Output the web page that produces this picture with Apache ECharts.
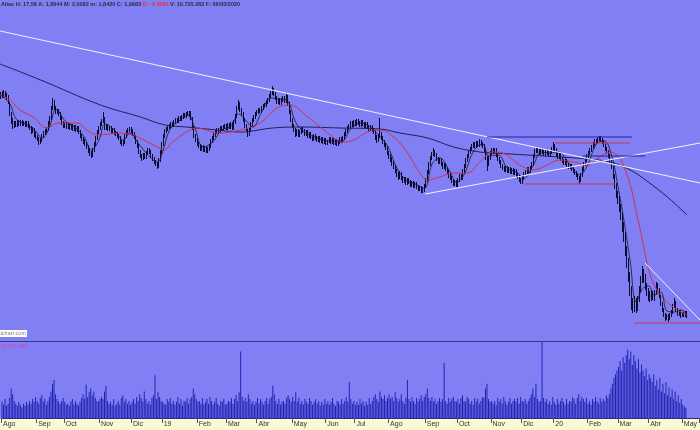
<!DOCTYPE html>
<html><head><meta charset="utf-8">
<script src="https://cdn.jsdelivr.net/npm/echarts@6/dist/echarts.min.js"></script>
<style>html,body{margin:0;padding:0;background:#8080f4}#c{width:700px;height:430px}</style>
</head><body><div id="c"></div><script>
// Month tick labels and the number of bars between month ticks (Aug 2018 .. May 2020)
const monthLabels=['Ago','Sep','Oct','Nov','Dic','19','Feb','Mar','Abr','May','Jun','Jul','Ago','Sep','Oct','Nov','Dic','20','Feb','Mar','Abr','May'];
const monthDays=[23,18,23,21,20,23,19,20,23,22,19,22,24,21,22,20,21,22,20,20,22,3];
const totalSlots=456;

const closeP=[
4.22,4.20,4.23,4.21,4.19,4.14,4.02,3.95,3.90,3.93,3.91,3.94,3.92,3.94,3.92,3.93,3.91,3.93,3.90,3.88,3.85,3.86,3.82,
3.79,3.77,3.74,3.76,3.80,3.83,3.85,3.87,3.93,3.98,4.08,4.14,4.08,4.04,4.05,4.02,3.98,3.93,3.90,3.92,
3.89,3.91,3.88,3.90,3.87,3.89,3.86,3.88,3.84,3.80,3.77,3.75,3.72,3.69,3.66,3.63,3.61,3.66,3.72,3.78,3.84,3.88,3.92,
3.95,3.98,3.88,3.90,3.87,3.88,3.85,3.86,3.83,3.82,3.80,3.78,3.74,3.72,3.74,3.80,3.84,3.86,3.87,3.85,3.82,3.79,
3.74,3.70,3.64,3.60,3.58,3.61,3.59,3.63,3.66,3.64,3.60,3.57,3.54,3.52,3.50,3.56,3.64,3.72,3.80,
3.85,3.87,3.89,3.90,3.92,3.91,3.94,3.96,3.95,3.98,3.97,3.99,4.01,4.00,4.02,4.03,4.01,3.98,3.88,3.80,3.76,3.72,
3.70,3.67,3.69,3.66,3.68,3.65,3.67,3.70,3.75,3.78,3.81,3.84,3.86,3.85,3.88,3.87,3.89,3.90,3.88,3.91,
3.89,3.92,3.88,3.94,4.00,4.08,4.12,4.06,4.02,3.96,3.90,3.86,3.82,3.86,3.92,3.96,3.99,4.02,4.04,4.06,4.05,
4.08,4.10,4.11,4.14,4.16,4.20,4.23,4.26,4.22,4.18,4.14,4.16,4.13,4.16,4.18,4.15,4.19,4.12,4.04,3.96,
3.90,3.86,3.82,3.85,3.81,3.84,3.87,3.85,3.82,3.84,3.80,3.82,3.79,3.77,3.80,3.78,3.76,3.78,3.75,3.77,3.74,3.76,
3.73,3.75,3.77,3.74,3.76,3.73,3.75,3.72,3.74,3.77,3.75,3.78,3.82,3.85,3.88,3.90,3.93,3.91,3.94,3.92,
3.95,3.93,3.91,3.94,3.92,3.90,3.92,3.89,3.87,3.89,3.86,3.84,3.79,3.76,3.80,3.82,3.78,3.74,3.71,3.68,3.63,3.60,3.57,
3.52,3.49,3.45,3.42,3.39,3.42,3.38,3.35,3.37,3.33,3.36,3.34,3.31,3.33,3.30,3.32,3.29,3.27,3.28,3.25,3.26,3.30,
3.36,3.44,3.52,3.58,3.62,3.64,3.61,3.57,3.54,3.56,3.52,3.49,3.51,3.47,3.44,3.40,3.38,3.35,3.32,3.34,3.31,
3.36,3.40,3.38,3.45,3.50,3.56,3.60,3.64,3.67,3.70,3.72,3.70,3.73,3.71,3.74,3.72,3.70,3.65,3.58,3.52,3.58,3.63,3.66,
3.64,3.66,3.61,3.57,3.54,3.50,3.48,3.46,3.48,3.45,3.47,3.44,3.46,3.43,3.45,3.41,3.39,3.36,3.34,3.38,3.42,
3.44,3.47,3.45,3.48,3.52,3.60,3.65,3.67,3.65,3.63,3.66,3.64,3.62,3.65,3.63,3.61,3.64,3.67,3.70,
3.66,3.62,3.59,3.61,3.57,3.55,3.53,3.55,3.51,3.49,3.50,3.47,3.45,3.43,3.41,3.38,3.36,3.41,3.47,3.52,3.56,3.60,
3.63,3.66,3.69,3.72,3.75,3.74,3.77,3.78,3.76,3.74,3.71,3.67,3.64,3.60,3.55,3.50,3.40,3.30,3.22,3.15,
3.08,3.00,2.88,2.78,2.66,2.52,2.40,2.26,2.12,2.08,2.14,2.08,2.16,2.26,2.36,2.44,2.38,2.30,2.24,2.20,2.18,2.22,
2.18,2.24,2.30,2.26,2.20,2.12,2.06,2.01,1.98,2.00,1.97,2.01,2.04,2.10,2.14,2.06,2.02,2.04,2.00,2.02,
2.01,2.03,2.00];

const openP=[
4.19,4.22,4.20,4.23,4.21,4.19,4.13,4.02,3.95,3.90,3.93,3.91,3.94,3.92,3.94,3.92,3.93,3.91,3.93,3.90,3.88,3.85,3.86,
3.82,3.79,3.77,3.74,3.76,3.80,3.83,3.85,3.87,3.93,3.98,4.08,4.14,4.08,4.04,4.05,4.02,3.98,3.93,3.90,
3.92,3.89,3.91,3.88,3.90,3.87,3.89,3.86,3.88,3.84,3.80,3.77,3.75,3.72,3.69,3.66,3.63,3.61,3.66,3.72,3.78,3.84,3.88,
3.92,3.95,3.97,3.88,3.90,3.87,3.88,3.85,3.86,3.83,3.82,3.80,3.78,3.74,3.72,3.74,3.80,3.84,3.86,3.87,3.85,3.82,
3.79,3.74,3.70,3.64,3.60,3.58,3.61,3.59,3.63,3.66,3.64,3.60,3.57,3.54,3.52,3.50,3.56,3.64,3.72,
3.80,3.85,3.87,3.89,3.90,3.92,3.91,3.94,3.96,3.95,3.98,3.97,3.99,4.01,4.00,4.02,4.03,4.01,3.97,3.88,3.80,3.76,
3.72,3.70,3.67,3.69,3.66,3.68,3.65,3.67,3.70,3.75,3.78,3.81,3.84,3.86,3.85,3.88,3.87,3.89,3.90,3.88,
3.91,3.89,3.92,3.88,3.94,4.00,4.08,4.12,4.06,4.02,3.96,3.90,3.86,3.82,3.86,3.92,3.96,3.99,4.02,4.04,4.06,
4.05,4.08,4.10,4.11,4.14,4.16,4.20,4.23,4.26,4.22,4.18,4.14,4.16,4.13,4.16,4.18,4.15,4.19,4.12,4.04,
3.96,3.90,3.86,3.82,3.85,3.81,3.84,3.87,3.85,3.82,3.84,3.80,3.82,3.79,3.77,3.80,3.78,3.76,3.78,3.75,3.77,3.74,
3.76,3.73,3.75,3.77,3.74,3.76,3.73,3.75,3.72,3.74,3.77,3.75,3.78,3.82,3.85,3.88,3.90,3.93,3.91,3.94,
3.92,3.95,3.93,3.91,3.94,3.92,3.90,3.92,3.89,3.87,3.89,3.86,3.84,3.79,3.76,3.80,3.82,3.78,3.74,3.71,3.68,3.63,3.60,
3.57,3.52,3.49,3.45,3.42,3.39,3.42,3.38,3.35,3.37,3.33,3.36,3.34,3.31,3.33,3.30,3.32,3.29,3.27,3.28,3.25,3.26,
3.30,3.36,3.44,3.52,3.58,3.62,3.64,3.61,3.57,3.54,3.56,3.52,3.49,3.51,3.47,3.44,3.40,3.38,3.35,3.32,3.34,
3.31,3.36,3.40,3.38,3.45,3.50,3.56,3.60,3.64,3.67,3.70,3.72,3.70,3.73,3.71,3.74,3.72,3.70,3.65,3.58,3.52,3.58,3.63,
3.66,3.64,3.66,3.61,3.57,3.54,3.50,3.48,3.46,3.48,3.45,3.47,3.44,3.46,3.43,3.45,3.41,3.39,3.36,3.34,3.38,
3.42,3.44,3.47,3.45,3.48,3.52,3.60,3.65,3.67,3.65,3.63,3.66,3.64,3.62,3.65,3.63,3.61,3.64,3.67,
3.70,3.66,3.62,3.59,3.61,3.57,3.55,3.53,3.55,3.51,3.49,3.50,3.47,3.45,3.43,3.41,3.38,3.36,3.41,3.47,3.52,3.56,
3.60,3.63,3.66,3.69,3.72,3.75,3.74,3.77,3.78,3.76,3.74,3.71,3.67,3.64,3.60,3.55,3.48,3.40,3.30,3.22,
3.15,3.08,2.98,2.88,2.78,2.64,2.52,2.40,2.26,2.12,2.08,2.14,2.08,2.16,2.26,2.36,2.44,2.38,2.30,2.24,2.20,2.18,
2.22,2.18,2.24,2.30,2.26,2.20,2.12,2.06,2.01,1.98,2.00,1.97,2.01,2.04,2.10,2.14,2.06,2.02,2.04,2.00,
2.02,2.01,2.03];

const highP=[
4.24,4.25,4.26,4.25,4.23,4.21,4.14,4.04,3.98,3.95,3.95,3.96,3.96,3.96,3.96,3.95,3.95,3.95,3.95,3.92,3.90,3.89,3.88,
3.84,3.81,3.79,3.78,3.82,3.85,3.87,3.89,3.95,4.00,4.10,4.18,4.16,4.10,4.07,4.07,4.04,4.00,3.95,3.94,
3.94,3.93,3.93,3.92,3.92,3.91,3.91,3.90,3.90,3.86,3.82,3.79,3.77,3.74,3.71,3.68,3.65,3.68,3.74,3.80,3.86,3.90,3.94,
3.97,4.04,3.99,3.92,3.92,3.90,3.90,3.88,3.88,3.85,3.84,3.82,3.80,3.76,3.76,3.82,3.86,3.88,3.89,3.89,3.87,3.84,
3.81,3.76,3.72,3.66,3.62,3.63,3.63,3.65,3.68,3.68,3.66,3.62,3.59,3.56,3.54,3.58,3.66,3.74,3.82,
3.87,3.89,3.91,3.92,3.94,3.94,3.96,3.98,3.98,4.00,4.00,4.01,4.03,4.03,4.04,4.05,4.05,4.05,3.99,3.90,3.82,3.78,
3.74,3.72,3.71,3.71,3.70,3.70,3.69,3.72,3.77,3.80,3.83,3.86,3.88,3.88,3.90,3.90,3.91,3.92,3.92,3.93,
3.93,3.94,3.94,3.96,4.02,4.10,4.16,4.14,4.08,4.04,3.98,3.92,3.88,3.88,3.94,3.98,4.01,4.04,4.06,4.08,4.08,
4.10,4.12,4.13,4.16,4.18,4.22,4.25,4.30,4.28,4.24,4.20,4.18,4.18,4.18,4.20,4.20,4.23,4.21,4.14,4.06,
3.98,3.92,3.88,3.87,3.87,3.86,3.89,3.89,3.87,3.86,3.86,3.84,3.84,3.81,3.82,3.82,3.80,3.80,3.80,3.79,3.79,3.78,
3.78,3.76,3.79,3.79,3.78,3.78,3.77,3.77,3.76,3.79,3.79,3.80,3.84,3.87,3.90,3.92,3.95,3.95,3.96,3.96,
3.97,3.97,3.95,3.96,3.96,3.94,3.94,3.94,3.91,3.91,3.91,3.88,3.86,3.81,3.82,3.98,3.84,3.80,3.76,3.73,3.70,3.65,3.62,
3.59,3.55,3.51,3.47,3.44,3.45,3.44,3.40,3.39,3.39,3.38,3.38,3.36,3.35,3.35,3.34,3.34,3.31,3.30,3.30,3.28,3.32,
3.38,3.46,3.54,3.60,3.64,3.68,3.66,3.63,3.59,3.58,3.58,3.54,3.53,3.53,3.49,3.46,3.42,3.40,3.37,3.36,3.36,
3.38,3.42,3.42,3.47,3.52,3.58,3.62,3.66,3.69,3.72,3.74,3.74,3.75,3.75,3.77,3.76,3.74,3.72,3.67,3.60,3.60,3.65,3.68,
3.68,3.68,3.68,3.63,3.59,3.56,3.52,3.50,3.50,3.50,3.49,3.49,3.48,3.48,3.47,3.47,3.43,3.41,3.38,3.40,3.44,
3.46,3.49,3.49,3.50,3.54,3.62,3.67,3.69,3.69,3.67,3.68,3.68,3.66,3.67,3.67,3.65,3.66,3.69,3.74,
3.72,3.68,3.64,3.63,3.63,3.59,3.57,3.57,3.57,3.53,3.52,3.52,3.49,3.47,3.45,3.43,3.40,3.43,3.49,3.54,3.58,3.62,
3.65,3.68,3.71,3.74,3.77,3.77,3.79,3.80,3.80,3.78,3.76,3.73,3.69,3.66,3.62,3.57,3.50,3.42,3.33,3.25,
3.20,3.12,3.04,2.94,2.84,2.70,2.58,2.44,2.30,2.18,2.20,2.18,2.20,2.30,2.40,2.50,2.47,2.42,2.33,2.28,2.25,2.26,
2.25,2.26,2.34,2.33,2.28,2.22,2.14,2.08,2.03,2.02,2.02,2.03,2.06,2.12,2.18,2.15,2.08,2.06,2.06,2.04,
2.04,2.05,2.05];

const lowP=[
4.17,4.18,4.18,4.19,4.16,4.12,4.00,3.92,3.87,3.88,3.89,3.89,3.90,3.90,3.90,3.90,3.89,3.89,3.88,3.86,3.82,3.83,3.79,
3.77,3.75,3.71,3.72,3.74,3.78,3.81,3.83,3.85,3.91,3.96,4.06,4.06,4.02,4.02,4.00,3.96,3.91,3.88,3.88,
3.87,3.87,3.86,3.86,3.85,3.85,3.84,3.84,3.82,3.78,3.75,3.72,3.70,3.67,3.63,3.60,3.58,3.59,3.64,3.70,3.76,3.82,3.86,
3.90,3.93,3.86,3.86,3.85,3.85,3.83,3.83,3.81,3.80,3.78,3.76,3.72,3.70,3.70,3.72,3.78,3.82,3.84,3.83,3.80,3.77,
3.72,3.68,3.62,3.58,3.55,3.56,3.57,3.57,3.61,3.62,3.58,3.55,3.52,3.50,3.47,3.48,3.54,3.62,3.70,
3.78,3.83,3.85,3.87,3.88,3.89,3.89,3.92,3.93,3.93,3.95,3.95,3.97,3.98,3.98,4.00,3.99,3.96,3.86,3.78,3.74,3.70,
3.68,3.65,3.65,3.64,3.64,3.63,3.63,3.65,3.68,3.73,3.76,3.79,3.82,3.83,3.83,3.85,3.85,3.87,3.86,3.86,
3.87,3.87,3.86,3.86,3.92,3.98,4.06,4.04,4.00,3.94,3.88,3.84,3.79,3.80,3.84,3.90,3.94,3.97,4.00,4.02,4.03,
4.03,4.06,4.08,4.09,4.12,4.14,4.18,4.21,4.20,4.16,4.12,4.12,4.11,4.11,4.14,4.13,4.13,4.10,4.02,3.94,
3.88,3.84,3.79,3.80,3.79,3.79,3.82,3.83,3.80,3.80,3.78,3.78,3.77,3.75,3.75,3.76,3.74,3.74,3.73,3.73,3.72,3.72,
3.71,3.71,3.73,3.72,3.72,3.71,3.71,3.70,3.70,3.72,3.73,3.73,3.76,3.80,3.83,3.86,3.88,3.89,3.89,3.90,
3.90,3.91,3.89,3.89,3.90,3.88,3.88,3.87,3.85,3.85,3.84,3.82,3.76,3.73,3.74,3.78,3.76,3.72,3.69,3.66,3.61,3.57,3.54,
3.50,3.47,3.43,3.39,3.36,3.37,3.36,3.33,3.33,3.31,3.31,3.32,3.29,3.29,3.28,3.28,3.27,3.25,3.25,3.23,3.23,3.24,
3.28,3.34,3.42,3.50,3.56,3.60,3.59,3.55,3.52,3.52,3.50,3.47,3.47,3.45,3.42,3.38,3.36,3.33,3.30,3.30,3.29,
3.29,3.34,3.36,3.36,3.43,3.48,3.54,3.58,3.62,3.65,3.68,3.68,3.68,3.69,3.69,3.70,3.68,3.63,3.56,3.45,3.50,3.56,3.61,
3.62,3.62,3.59,3.55,3.52,3.48,3.46,3.44,3.44,3.43,3.43,3.42,3.42,3.41,3.41,3.39,3.37,3.34,3.32,3.32,3.36,
3.40,3.42,3.43,3.43,3.46,3.50,3.58,3.63,3.63,3.61,3.61,3.62,3.60,3.60,3.61,3.59,3.59,3.62,3.65,
3.64,3.60,3.57,3.57,3.55,3.53,3.51,3.51,3.49,3.47,3.47,3.45,3.43,3.41,3.39,3.36,3.32,3.34,3.39,3.45,3.50,3.54,
3.58,3.61,3.64,3.67,3.70,3.72,3.72,3.75,3.74,3.72,3.69,3.65,3.62,3.58,3.53,3.47,3.37,3.27,3.18,3.12,
3.04,2.96,2.84,2.74,2.60,2.48,2.34,2.20,2.06,2.03,2.04,2.03,2.05,2.14,2.24,2.33,2.33,2.26,2.20,2.15,2.14,2.15,
2.16,2.15,2.22,2.24,2.18,2.10,2.04,1.99,1.95,1.96,1.94,1.96,1.99,2.02,2.08,2.04,2.00,2.00,1.98,1.99,
1.99,1.99,1.98];

// volume, millions of shares
const volume=[
17,14,20,13,15,21,31,25,18,15,13,17,14,11,15,13,17,14,18,15,20,17,22,
18,15,21,24,17,20,14,18,22,28,36,40,25,20,17,15,18,21,17,14,
15,13,17,20,14,18,15,13,17,21,25,20,35,22,27,31,24,28,21,18,17,20,22,
20,28,34,18,15,17,14,20,13,15,18,14,21,24,17,20,15,18,14,17,20,15,
22,18,25,21,17,28,20,15,18,14,21,24,45,20,27,22,18,17,15,
14,20,17,21,15,18,14,17,22,15,20,13,18,17,21,15,20,22,31,25,20,17,
18,15,21,14,17,20,15,22,18,14,17,21,15,13,18,17,20,14,15,18,
17,21,15,20,24,18,27,70,22,18,21,17,25,20,15,18,14,17,21,15,20,
17,14,18,21,15,20,22,34,25,18,15,20,14,17,18,15,21,24,20,17,
22,18,27,17,21,15,18,14,20,17,15,21,18,14,17,20,15,18,13,17,14,20,
15,18,14,17,21,15,13,18,17,14,20,15,18,22,17,38,20,15,18,14,
17,14,20,15,18,13,17,14,21,15,18,22,25,20,17,28,22,20,24,18,21,25,20,
22,18,27,21,17,20,25,18,15,21,40,20,17,22,18,15,21,17,20,24,18,22,
25,31,21,18,22,17,20,15,18,21,17,20,58,18,15,21,17,20,22,18,17,
20,15,21,24,18,17,22,20,15,18,14,21,17,20,15,18,22,21,31,36,20,17,18,
15,18,14,21,17,20,15,22,18,14,17,21,15,18,20,17,21,15,22,18,17,
20,15,18,21,25,31,22,36,20,17,18,80,21,17,20,15,18,14,22,
17,14,20,15,18,21,17,14,20,15,18,17,22,20,15,21,25,18,22,20,17,21,
15,18,14,20,17,22,18,15,21,17,20,18,24,21,25,31,36,42,46,50,
54,60,50,64,58,66,72,62,70,56,66,60,52,62,48,56,50,44,52,40,46,42,
38,46,34,40,30,42,28,36,26,38,24,32,22,30,20,28,18,24,16,20,
14,12,10.72];

// moving averages: [dayIndex, price]
const maRed=[[-0.5,4.21],[6,4.16],[12.5,4.06],[21,3.99],[30,3.88],[37,3.93],[50,3.93],[56,3.86],[63,3.81],[78,3.83],[86,3.81],[93,3.76],[102,3.69],[106,3.66],[112,3.74],[121,3.84],[128,3.88],[134,3.86],[141,3.83],[156,3.86],[169,3.93],[180,4.08],[188,4.11],[200,3.99],[213,3.83],[223,3.74],[230,3.76],[239,3.84],[247,3.86],[256,3.79],[265,3.63],[273,3.43],[278,3.36],[286,3.39],[295,3.43],[304,3.43],[312,3.54],[321,3.64],[327,3.63],[338,3.51],[347,3.46],[356,3.51],[364,3.56],[373,3.54],[382,3.51],[390,3.59],[397,3.64],[403,3.58],[408,3.41],[411,3.26],[414,3.04],[418,2.76],[421,2.53],[425,2.33],[431,2.19],[438,2.09],[447,2.01]];
const maLong=[[-0.5,4.52],[26,4.36],[65,4.11],[91,3.99],[107,3.91],[121,3.89],[141,3.86],[156,3.84],[177,3.88],[195,3.89],[221,3.88],[247,3.87],[260,3.83],[278,3.78],[295,3.69],[312,3.64],[321,3.63],[343,3.61],[364,3.59],[382,3.57],[397,3.54],[410,3.46],[420,3.36],[435,3.18],[447,3.01]];
const maShort=[[0,4.21],[6,4.12],[10,3.97],[16,3.92],[22,3.86],[27,3.78],[32,3.90],[36,4.07],[42,3.95],[48,3.89],[54,3.80],[59,3.66],[64,3.76],[68,3.92],[74,3.86],[80,3.76],[84,3.83],[90,3.72],[96,3.61],[102,3.54],[106,3.67],[110,3.86],[116,3.95],[122,4.01],[126,3.90],[132,3.69],[138,3.74],[144,3.86],[150,3.90],[155,4.02],[160,3.95],[164,3.89],[170,4.04],[176,4.18],[182,4.17],[187,4.15],[192,3.94],[198,3.84],[206,3.78],[214,3.75],[222,3.75],[228,3.87],[234,3.93],[240,3.90],[246,3.81],[252,3.70],[258,3.48],[264,3.36],[270,3.32],[276,3.28],[281,3.52],[286,3.58],[292,3.46],[297,3.34],[302,3.42],[308,3.65],[314,3.72],[318,3.60],[324,3.61],[330,3.48],[336,3.44],[341,3.38],[347,3.51],[352,3.64],[358,3.63],[363,3.64],[370,3.53],[377,3.41],[382,3.50],[388,3.72],[393,3.75],[398,3.60],[402,3.30],[406,2.95],[410,2.55],[414,2.14],[418,2.27],[422,2.30],[426,2.21],[430,2.24],[434,2.05],[439,2.04],[443,2.06],[447,2.02]];

// drawn trend lines / levels: [dayIndex, price]
const trendWhiteDown=[[-0.5,4.85],[455.5,3.33]];
const trendWhiteUp=[[276.4,3.22],[455.5,3.73]];
const trendWhiteLow=[[419.7,2.53],[455.5,1.96]];
const levelNavyTop=[[316.8,3.79],[411.2,3.79]];
const levelRedTop=[[361,3.73],[410,3.73]];
const levelNavyMid=[[379.3,3.60],[419.7,3.60]];
const levelRedMid=[[341.5,3.32],[400.2,3.32]];
const levelRedLow=[[412.5,1.93],[455.5,1.93]];

const cats=[], labelAt={};
let k=0;
monthLabels.forEach((m,j)=>{labelAt[k]=m;for(let d=0;d<monthDays[j];d++){cats.push(String(k));k++;}});
while(cats.length<totalSlots){cats.push(String(cats.length));}
const candles=closeP.map((c,i)=>[openP[i],c,lowP[i],highP[i]]);
const isMonth=(idx)=>labelAt[idx]!==undefined;

function line(data,color,width,smooth){
  return {type:'line',xAxisIndex:2,yAxisIndex:0,data:data,symbol:'none',silent:true,smooth:smooth||false,
    lineStyle:{color:color,width:width},z:smooth?4:5};
}
const FF='"Liberation Sans", Arial, sans-serif';
const chart=echarts.init(document.getElementById('c'),null,{renderer:'canvas'});
chart.setOption({
  animation:false,
  backgroundColor:'#8080f4',
  title:{text:'{a|Alias H: 17,58 A: 1,8644 M: 2,0082 m: 1,8420 C: 1,9983 }{r|D: -3,4286}{a| V: 10.720.263 F: 06/05/2020}',
    left:0,top:0,padding:[1,0,0,1],
    textStyle:{rich:{a:{color:'#2a2a40',fontSize:5.5,fontFamily:FF},r:{color:'#e83040',fontSize:5.5,fontFamily:FF}}}},
  grid:[{left:0,right:0,top:0,height:342},{left:0,right:0,top:342,height:76}],
  xAxis:[
    {type:'category',gridIndex:0,data:cats,show:false,boundaryGap:true},
    {type:'category',gridIndex:1,data:cats,boundaryGap:true,
      axisLine:{show:true,lineStyle:{color:'#2a2a90',width:1}},
      axisTick:{show:true,alignWithLabel:false,interval:(i)=>isMonth(i),length:5,lineStyle:{color:'#555'}},
      axisLabel:{show:true,interval:(i)=>isMonth(i),formatter:(v,i)=>labelAt[i]||'',fontSize:7,fontFamily:FF,color:'#333',align:'left',margin:3,padding:[0,0,0,1]},
      splitLine:{show:false}},
    {type:'value',gridIndex:0,min:-0.5,max:455.5,show:false}
  ],
  yAxis:[
    {type:'value',gridIndex:0,min:1.74,max:5.16,show:false},
    {type:'value',gridIndex:1,min:0,max:80,show:false}
  ],
  graphic:[
    {type:'rect',z:-1,shape:{x:0,y:418.5,width:700,height:12},style:{fill:'#fbf9d4'}},
    {type:'line',z:50,shape:{x1:0,y1:341.5,x2:700,y2:341.5},style:{stroke:'#38387a',lineWidth:1.2}},
    {type:'rect',z:50,shape:{x:0,y:330,width:27,height:7},style:{fill:'#ffffff'}},
    {type:'text',z:51,style:{x:26,y:330.5,text:'visualchart.com',textAlign:'right',fill:'#808080',font:'5.5px '+FF}},
    {type:'text',z:51,style:{x:0,y:343,text:'12.475.887',fill:'#e040a8',font:'5.5px '+FF}}
  ],
  series:[
    {type:'bar',xAxisIndex:1,yAxisIndex:1,data:volume,barWidth:1,itemStyle:{color:'#2222b2'},silent:true},
    {type:'candlestick',xAxisIndex:0,yAxisIndex:0,data:candles,barWidth:1.2,silent:true,
      itemStyle:{color:'#0c0c30',color0:'#0c0c30',borderColor:'#0c0c30',borderColor0:'#0c0c30',borderWidth:1}},
    line(maLong,'#1e1e5a',1,0.4),
    line(maRed,'#d0304c',1,0.4),
    line(maShort,'#15152a',0.8,0.4),
    line(trendWhiteDown,'#f0f0ff',1),
    line(trendWhiteUp,'#f0f0ff',1),
    line(trendWhiteLow,'#f0f0ff',1),
    line(levelNavyTop,'#22229a',1),
    line(levelRedTop,'#d0304c',1),
    line(levelNavyMid,'#22229a',1),
    line(levelRedMid,'#d0304c',1),
    line(levelRedLow,'#d0304c',1)
  ]
});
</script></body></html>
